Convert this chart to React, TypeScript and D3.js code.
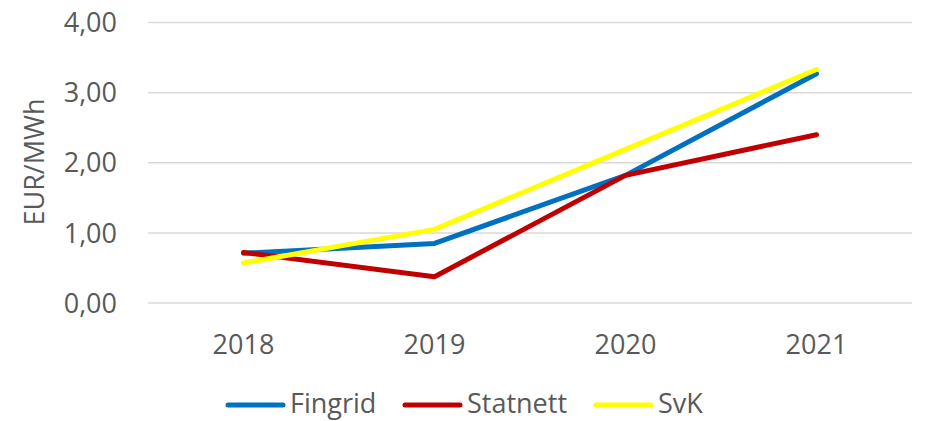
import React from "react";
import * as d3 from "d3";

const categories = ["2018", "2019", "2020", "2021"];
const fingrid = [0.71, 0.85, 1.82, 3.27];
const statnett = [0.72, 0.375, 1.82, 2.4];
const svk = [0.57, 1.05, 2.19, 3.33];
const yTicks = [0, 1, 2, 3, 4];
const seriesNames = ["Fingrid", "Statnett", "SvK"];
const seriesColors = ["#0070C0", "#C00000", "#FFFF00"];
const yTitle = "EUR/MWh";

const W = 925;
const H = 421;
const left = 148;
const right = 912;
const top = 22.5;
const bottom = 303;
const FONT = "'Open Sans', 'Liberation Sans', sans-serif";
const TEXT = "#595959";

export default function App() {
  const x = d3.scaleBand<string>().domain(categories).range([left, right]);
  const y = d3.scaleLinear().domain([0, 4]).range([bottom, top]);
  const fmt = (v: number) => v.toFixed(2).replace(".", ",");
  const line = d3
    .line<number>()
    .x((_, i) => (x(categories[i]) as number) + x.bandwidth() / 2)
    .y((d) => y(d));
  const data = [fingrid, statnett, svk];
  const legendX = [228, 405, 596];

  return (
    <svg
      width={W}
      height={H}
      style={{ position: "absolute", left: 0, top: 0, display: "block", background: "#fff" }}
    >
      {yTicks.map((t) => (
        <g key={t}>
          <line x1={left} x2={right} y1={y(t)} y2={y(t)} stroke="#D9D9D9" strokeWidth={1.5} />
          <text
            x={117}
            y={y(t)}
            dy="0.36em"
            textAnchor="end"
            fontFamily={FONT}
            fontSize={27}
            fill={TEXT}
          >
            {fmt(t)}
          </text>
        </g>
      ))}
      <text
        transform={`translate(44,162) rotate(-90)`}
        textAnchor="middle"
        fontFamily={FONT}
        fontSize={27}
        fill={TEXT}
      >
        {yTitle}
      </text>
      {categories.map((c) => (
        <text
          key={c}
          x={(x(c) as number) + x.bandwidth() / 2}
          y={354}
          textAnchor="middle"
          fontFamily={FONT}
          fontSize={27}
          fill={TEXT}
        >
          {c}
        </text>
      ))}
      {data.map((s, i) => (
        <path
          key={seriesNames[i]}
          d={line(s) as string}
          fill="none"
          stroke={seriesColors[i]}
          strokeWidth={5}
          strokeLinecap="round"
          strokeLinejoin="round"
        />
      ))}
      {seriesNames.map((n, i) => (
        <g key={n}>
          <line
            x1={legendX[i]}
            x2={legendX[i] + 55}
            y1={405}
            y2={405}
            stroke={seriesColors[i]}
            strokeWidth={5}
            strokeLinecap="round"
          />
          <text x={legendX[i] + 62} y={413} fontFamily={FONT} fontSize={27} fill={TEXT}>
            {n}
          </text>
        </g>
      ))}
    </svg>
  );
}
